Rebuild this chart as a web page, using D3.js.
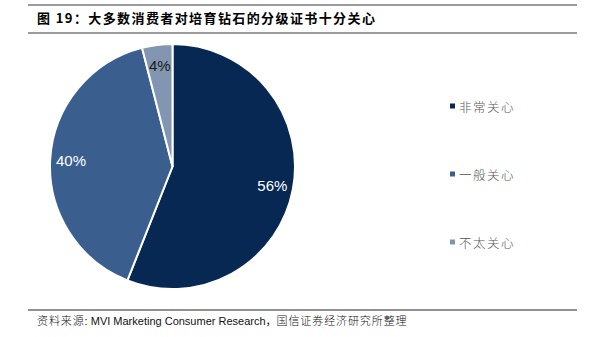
<!DOCTYPE html>
<html>
<head>
<meta charset="utf-8">
<script src="https://cdn.jsdelivr.net/npm/d3@7"></script>
<style>
  html, body { margin: 0; padding: 0; background: #fff; }
  svg { display: block; }
</style>
</head>
<body>
<svg id="chart" width="593" height="337"></svg>
<script>
// Survey answers: how much consumers care about lab-grown diamond grading certificates
const categories = ["非常关心", "一般关心", "不太关心"];
const shares = [56, 40, 4];
const valueLabels = ["56%", "40%", "4%"];
const sliceColors = ["#062853", "#3a5f8f", "#8296b1"];
const labelColors = ["#ffffff", "#ffffff", "#1a1a1a"];

const titleText = "图 19：大多数消费者对培育钻石的分级证书十分关心";
// Source line pieces: [text, isCJK]
const sourceParts = [["资料来源", true], [": MVI Marketing Consumer Research，", false], ["国信证券经济研究所整理", true]];

const svg = d3.select("#chart");

// Header rules and title
svg.append("line").attr("x1", 28).attr("x2", 577).attr("y1", 5).attr("y2", 5)
  .attr("stroke", "#7a7a7a").attr("stroke-width", 1.6);
svg.append("line").attr("x1", 28).attr("x2", 577).attr("y1", 33).attr("y2", 33)
  .attr("stroke", "#7a7a7a").attr("stroke-width", 1.6);
svg.append("text")
  .attr("x", 37).attr("y", 23)
  .attr("font-family", "'Noto Sans CJK SC', 'Liberation Sans', sans-serif")
  .attr("font-weight", "bold")
  .attr("font-size", 13)
  .attr("letter-spacing", 1.4)
  .attr("fill", "#000")
  .text(titleText);

// Pie
const cx = 172.5, cy = 166.5, R = 122.5;
const pie = d3.pie().sort(null).value(d => d)(shares);
const arc = d3.arc().innerRadius(0).outerRadius(R);
const labelArc = d3.arc().innerRadius(R * 0.83).outerRadius(R * 0.83);

const g = svg.append("g").attr("transform", `translate(${cx},${cy})`);
g.selectAll("path.slice")
  .data(pie)
  .join("path")
  .attr("class", "slice")
  .attr("d", arc)
  .attr("fill", (d, i) => sliceColors[i])
  .attr("stroke", "#ffffff")
  .attr("stroke-width", 2)
  .attr("stroke-linejoin", "round");

g.selectAll("text.val")
  .data(pie)
  .join("text")
  .attr("class", "val")
  .attr("transform", d => `translate(${labelArc.centroid(d)})`)
  .attr("text-anchor", "middle")
  .attr("dominant-baseline", "central")
  .attr("font-family", "'Liberation Sans', Arial, sans-serif")
  .attr("font-size", 15)
  .attr("fill", (d, i) => labelColors[i])
  .text((d, i) => valueLabels[i]);

// Legend
const legendY = d3.scalePoint().domain(categories).range([106, 242]);
const items = svg.append("g").selectAll("g.item").data(categories).join("g")
  .attr("class", "item")
  .attr("transform", d => `translate(450,${legendY(d)})`);
items.append("rect")
  .attr("x", 0).attr("y", -2.5).attr("width", 5).attr("height", 5)
  .attr("fill", (d, i) => sliceColors[i]);
items.append("text")
  .attr("x", 9).attr("y", 0)
  .attr("dominant-baseline", "central")
  .attr("font-family", "'Noto Sans CJK SC', sans-serif")
  .attr("font-size", 12.5)
  .attr("font-weight", 300)
  .attr("letter-spacing", 1.5)
  .attr("fill", "#555")
  .text(d => d);

// Footer rule and source line
svg.append("line").attr("x1", 28).attr("x2", 577).attr("y1", 310).attr("y2", 310)
  .attr("stroke", "#222").attr("stroke-width", 1);
svg.append("text")
  .attr("x", 37).attr("y", 325)
  .attr("font-family", "'Liberation Sans', Arial, 'Noto Sans CJK SC', sans-serif")
  .attr("font-size", 11)
  .attr("fill", "#111")
  .selectAll("tspan")
  .data(sourceParts)
  .join("tspan")
  .attr("font-family", d => d[1] ? "'Noto Sans CJK SC', sans-serif" : null)
  .attr("font-weight", d => d[1] ? 300 : null)
  .attr("letter-spacing", d => d[1] ? 0.9 : 0)
  .text(d => d[0]);
</script>
</body>
</html>
